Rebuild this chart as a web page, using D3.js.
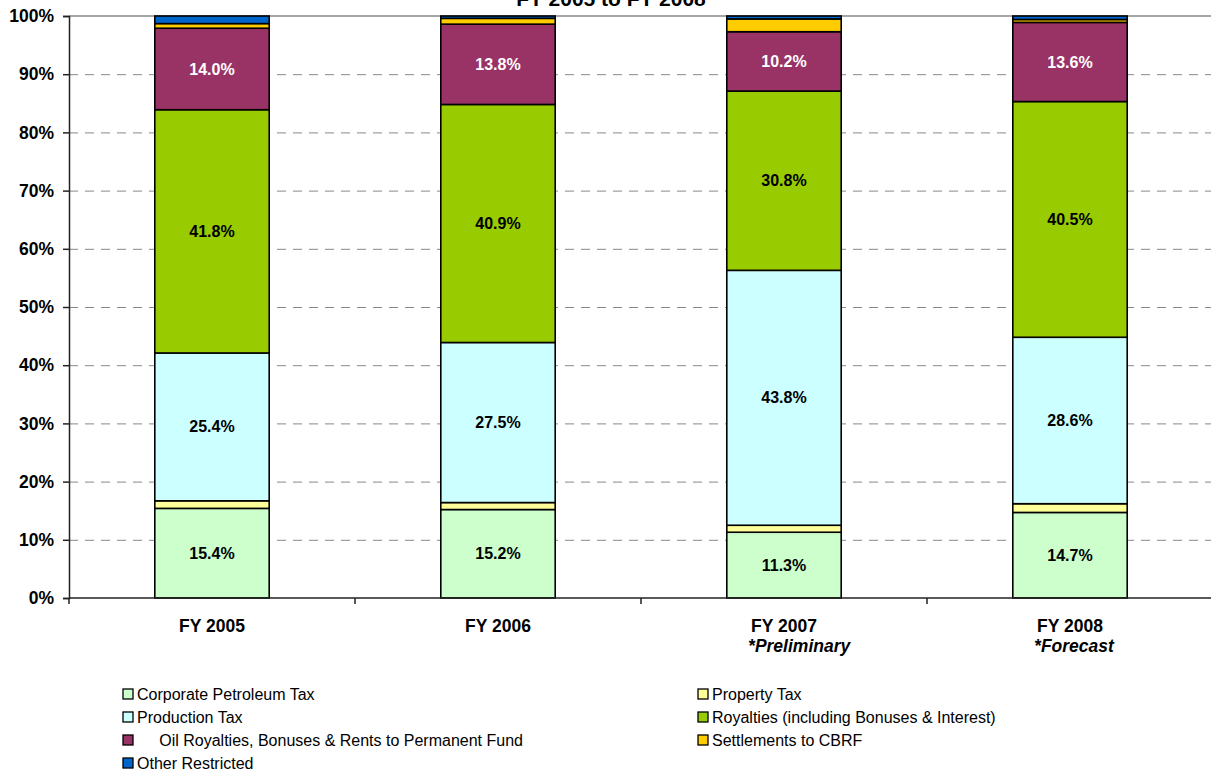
<!DOCTYPE html>
<html>
<head>
    <meta charset="utf-8">
    <title>Petroleum Revenue Shares</title>
</head>
<body style="margin:0">
<style>
    body { background: #fff; }
    text { font-family: Arial, "Liberation Sans", sans-serif; }
</style>
<script src="https://d3js.org/d3.v7.min.js"></script>
<script>
    // categories and footnotes
    const years = ['FY 2005', 'FY 2006', 'FY 2007', 'FY 2008'];
    const notes = ['', '', '*Preliminary', '*Forecast'];

    // series, bottom to top (% of total)
    const seriesNames = [
        'Corporate Petroleum Tax',
        'Property Tax',
        'Production Tax',
        'Royalties (including Bonuses & Interest)',
        '     Oil Royalties, Bonuses & Rents to Permanent Fund',
        'Settlements to CBRF',
        'Other Restricted'
    ];
    const corporateTax = [15.4, 15.2, 11.3, 14.7];
    const propertyTax = [1.3, 1.2, 1.2, 1.5];
    const productionTax = [25.4, 27.5, 43.8, 28.6];
    const royalties = [41.8, 40.9, 30.8, 40.5];
    const permanentFund = [14.0, 13.8, 10.2, 13.6];
    const settlements = [0.8, 1.0, 2.2, 0.5];
    const otherRestricted = [1.3, 0.4, 0.5, 0.6];
    const yTicks = [0, 10, 20, 30, 40, 50, 60, 70, 80, 90, 100];

    const colors = ['#ccffcc', '#ffff99', '#ccffff', '#99cc00', '#993366', '#ffcc00', '#0066cc'];
    const labelColors = ['#000', '#000', '#000', '#000', '#fff', '#000', '#000'];
    const showLabel = [true, false, true, true, true, false, false];

    const SIZES = {
        WIDTH: 1211,
        HEIGHT: 778,
        LEFT: 69,
        RIGHT: 1213,
        TOP: 16,
        BOTTOM: 598
    };

    const allSeries = [corporateTax, propertyTax, productionTax, royalties,
        permanentFund, settlements, otherRestricted];

    const table = years.map((y, i) => {
        const row = {year: y};
        allSeries.forEach((s, k) => { row['s' + k] = s[i]; });
        return row;
    });
    const keys = allSeries.map((s, k) => 's' + k);
    const stacked = d3.stack().keys(keys)(table);

    const svg = d3.select('body').append('svg')
        .attr('width', SIZES.WIDTH)
        .attr('height', SIZES.HEIGHT);

    const x = d3.scaleBand().domain(years)
        .range([SIZES.LEFT, SIZES.RIGHT]);
    const y = d3.scaleLinear().domain([0, 100])
        .range([SIZES.BOTTOM, SIZES.TOP]);
    const barW = x.bandwidth() * 0.4;

    // title, mostly cut off at the top (as in the source)
    svg.append('text')
        .attr('x', 611).attr('y', 6)
        .attr('text-anchor', 'middle')
        .style('font-size', '21px').style('font-weight', 'bold')
        .text('FY 2005 to FY 2008');

    // gridlines
    svg.append('g')
        .selectAll('line')
        .data(yTicks.filter(t => t > 0 && t < 100))
        .join('line')
        .attr('x1', SIZES.LEFT).attr('x2', SIZES.WIDTH)
        .attr('y1', d => y(d) + 0.5).attr('y2', d => y(d) + 0.5)
        .attr('stroke', '#888').attr('stroke-dasharray', '9,7');
    svg.append('line')
        .attr('x1', SIZES.LEFT).attr('x2', SIZES.WIDTH)
        .attr('y1', y(100)).attr('y2', y(100))
        .attr('stroke', '#888').attr('stroke-width', 1.5);

    // bars
    const layers = svg.append('g')
        .selectAll('g')
        .data(stacked)
        .join('g')
        .attr('fill', (d, i) => colors[i]);

    layers.selectAll('rect')
        .data(d => d)
        .join('rect')
        .attr('x', d => x(d.data.year) + (x.bandwidth() - barW) / 2)
        .attr('width', barW)
        .attr('y', d => y(d[1]))
        .attr('height', d => y(d[0]) - y(d[1]))
        .attr('stroke', '#000')
        .attr('stroke-width', 1.6);

    // segment labels
    stacked.forEach((layer, k) => {
        if (!showLabel[k]) return;
        svg.append('g')
            .selectAll('text')
            .data(layer)
            .join('text')
            .attr('x', d => x(d.data.year) + x.bandwidth() / 2)
            .attr('y', d => y((d[0] + d[1]) / 2))
            .attr('dy', '0.35em')
            .attr('text-anchor', 'middle')
            .attr('fill', labelColors[k])
            .style('font-size', '16px').style('font-weight', 'bold')
            .text(d => d.data['s' + k].toFixed(1) + '%');
    });

    // y axis
    const yAxis = svg.append('g')
        .attr('transform', `translate(${SIZES.LEFT},0)`)
        .call(d3.axisLeft(y).tickValues(yTicks).tickSize(6).tickPadding(9)
            .tickFormat(d => d + '%'));
    yAxis.select('.domain').attr('stroke', '#222').attr('stroke-width', 1.5);
    yAxis.selectAll('.tick line').attr('stroke', '#222').attr('stroke-width', 1.5);
    yAxis.selectAll('text')
        .style('font-size', '17.5px').style('font-weight', 'bold')
        .style('font-family', 'Arial, "Liberation Sans", sans-serif')
        .attr('fill', '#000');

    // x axis with ticks between categories
    const xAxis = svg.append('g')
        .attr('transform', `translate(0,${SIZES.BOTTOM})`);
    xAxis.append('line')
        .attr('x1', SIZES.LEFT).attr('x2', SIZES.WIDTH)
        .attr('stroke', '#222').attr('stroke-width', 1.5);
    xAxis.selectAll('.sep')
        .data(years)
        .join('line')
        .attr('class', 'sep')
        .attr('x1', d => x(d)).attr('x2', d => x(d))
        .attr('y1', 0).attr('y2', 6)
        .attr('stroke', '#222').attr('stroke-width', 1.5);

    years.forEach((yr, i) => {
        const cx = x(yr) + x.bandwidth() / 2;
        const t = xAxis.append('text')
            .attr('x', cx).attr('y', 34)
            .attr('text-anchor', 'middle')
            .style('font-size', '17.5px').style('font-weight', 'bold')
            .text(yr);
        if (notes[i]) {
            const w = t.node().getComputedTextLength();
            xAxis.append('text')
                .attr('x', cx - w / 2 - 3).attr('y', 54)
                .style('font-size', '17.5px').style('font-weight', 'bold')
                .style('font-style', 'italic')
                .text(notes[i]);
        }
    });

    // legend, two columns
    const legend = svg.append('g');
    seriesNames.forEach((name, i) => {
        const col = i % 2, row = Math.floor(i / 2);
        const lx = col === 0 ? 123 : 698;
        const ly = 694 + row * 23;
        legend.append('rect')
            .attr('x', lx).attr('y', ly - 5)
            .attr('width', 10).attr('height', 10)
            .attr('fill', colors[i])
            .attr('stroke', '#000').attr('stroke-width', 1.3);
        legend.append('text')
            .attr('x', lx + 14).attr('y', ly)
            .attr('dy', '0.35em')
            .style('font-size', '16px')
            .style('white-space', 'pre')
            .attr('xml:space', 'preserve')
            .text(name);
    });
</script>
</body>
</html>
